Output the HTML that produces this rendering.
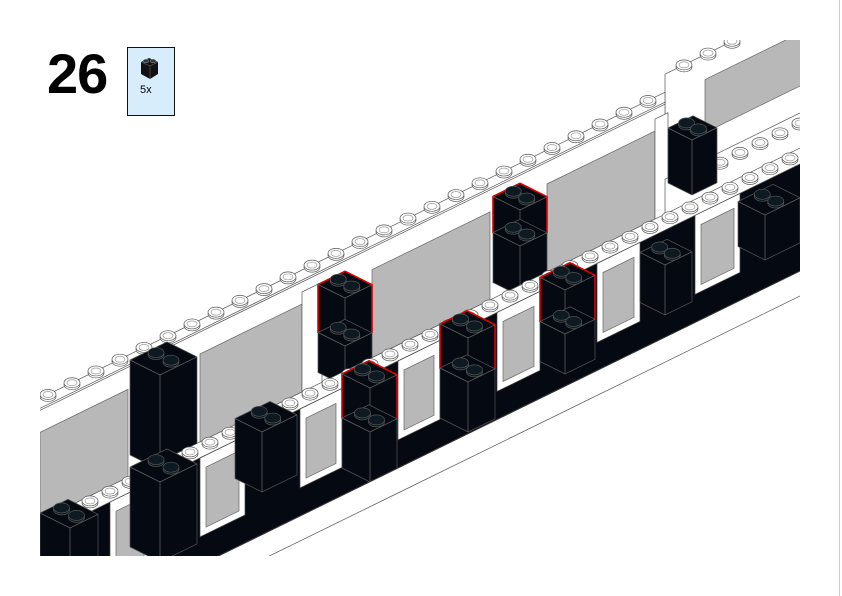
<!DOCTYPE html>
<html><head><meta charset="utf-8"><style>
html,body{margin:0;padding:0;background:#fff;}
body{width:842px;height:596px;position:relative;overflow:hidden;font-family:"Liberation Sans",sans-serif;}
#num{position:absolute;left:47px;top:40px;font-size:56px;font-weight:bold;letter-spacing:-1px;line-height:68px;}
#pl{position:absolute;left:127px;top:47px;width:46px;height:67px;background:#d8edfc;border:1.5px solid #111;}
#pl span{position:absolute;left:12px;top:36px;font-size:11px;}
#vl{position:absolute;left:839px;top:0;width:1px;height:596px;background:#ccc;}
svg{position:absolute;left:0;top:0;}
</style></head><body>
<div id="num">26</div>
<div id="pl"><svg width="46" height="40" viewBox="0 0 46 40"><polygon points="13,14 21,10 30,14 30,26 22,31 13,26" fill="#111"/><line x1="13" y1="14" x2="22" y2="18" stroke="#666" stroke-width=".6"/><line x1="22" y1="18" x2="30" y2="14" stroke="#666" stroke-width=".6"/><line x1="22" y1="18" x2="22" y2="31" stroke="#666" stroke-width=".6"/><ellipse cx="18" cy="13" rx="3" ry="1.8" fill="#333" stroke="#aaa" stroke-width=".5"/><ellipse cx="25" cy="13" rx="3" ry="1.8" fill="#333" stroke="#aaa" stroke-width=".5"/></svg><span>5x</span></div>
<div id="vl"></div>
<svg id="s" width="842" height="596" viewBox="0 0 842 596"></svg>
<script>
var S=document.getElementById('s'),o='<defs><clipPath id="c"><rect x="40" y="40" width="760" height="516"/></clipPath></defs><g clip-path="url(#c)">';
function Y(x,c){return c-0.49*x;}
function P(pts,f,s,w){o+='<polygon points="'+pts.map(function(p){return (+p[0]).toFixed(1)+','+(+p[1]).toFixed(1)}).join(' ')+'" fill="'+f+'" stroke="'+(s||'#555')+'" stroke-width="'+(w||0.7)+'"/>';}
function band(c1,c2,f,x1,x2){x1=x1||0;x2=x2||842;P([[x1,Y(x1,c1)],[x2,Y(x2,c1)],[x2,Y(x2,c2)],[x1,Y(x1,c2)]],f);}
function stud(x,y,f){o+='<ellipse cx="'+x+'" cy="'+(y+2)+'" rx="8" ry="5" fill="'+f+'" stroke="#555" stroke-width=".7"/><ellipse cx="'+x+'" cy="'+y+'" rx="8" ry="5" fill="'+f+'" stroke="#555" stroke-width=".7"/>'+(f=='#fff'?'<ellipse cx="'+x+'" cy="'+y+'" rx="5" ry="3" fill="none" stroke="#888" stroke-width=".6"/>':'');}
function box(xl,xc,xr,yt,h,red){
 var a=0.5*(xc-xl),b=0.49*(xr-xc);
 var L=[xl,yt-a],C=[xc,yt],R=[xr,yt-b],B=[xl+(xr-xc),yt-a-b];
 var s=red?'#d00':'#555',w=red?1.6:0.7;
 P([L,B,R,[xr,yt-b+h],[xc,yt+h],[xl,yt-a+h]],'#050a12',s,w);
 o+='<polyline points="'+L.join(',')+' '+C.join(',')+' '+R.join(',')+'" fill="none" stroke="#666" stroke-width=".7"/><line x1="'+xc+'" y1="'+yt+'" x2="'+xc+'" y2="'+(yt+h)+'" stroke="#666" stroke-width=".7"/>';
 var cx=(L[0]+R[0])/2,cy=(L[1]+R[1])/2-2,dx=(C[0]-L[0])*0.25,dy=(C[1]-L[1])*0.25;
 stud(cx-dx,cy-dy,'#0d1a22');stud(cx+dx,cy+dy,'#0d1a22');
}
// far right wall (higher)
band(400,548,'#fff',665,842);
P([[705,Y(705,425)],[842,Y(842,425)],[842,Y(842,478)],[705,Y(705,478)]],'#b8b8b8','#666');
for(var x=684;x<842;x+=24){stud(x,Y(x,400),'#fff');}
// upper wall
band(418,548,'#fff',0,665);
band(428,430,'#fff',0,665);
[[40,128],[200,302],[372,490],[547,655]].forEach(function(r){P([[r[0],Y(r[0],452)],[r[1],Y(r[1],452)],[r[1],Y(r[1],540)],[r[0],Y(r[0],540)]],'#b8b8b8','#666');});
[[302,322],[655,668]].forEach(function(r){P([[r[0],Y(r[0],440)],[r[1],Y(r[1],440)],[r[1],Y(r[1],545)],[r[0],Y(r[0],545)]],'#fff','#555');});
for(var x=48;x<665;x+=24){stud(x,Y(x,418),'#fff');}
// right mid ledge
band(505,548,'#fff',665,842);
for(var x=720;x<842;x+=20){stud(x,Y(x,515),'#fff');}
box(130,160,197,375,95);
box(318,345,372,298,48,1);box(318,345,372,346,40);
box(493,520,547,210,36,1);box(493,520,547,246,50);
box(668,692,717,140,55);
band(540,556,'#fff');
for(var x=50;x<800;x+=20){stud(x,Y(x,545),'#fff');}
band(556,663,'#050a12');
[[110,150],[200,245],[300,342],[398,440],[497,540],[597,640],[695,740]].forEach(function(r){
 P([[r[0],Y(r[0],556)],[r[1],Y(r[1],556)],[r[1],Y(r[1],635)],[r[0],Y(r[0],635)]],'#fff','#444');
 P([[r[0]+6,Y(r[0]+6,568)],[r[1]-6,Y(r[1]-6,568)],[r[1]-6,Y(r[1]-6,628)],[r[0]+6,Y(r[0]+6,628)]],'#b8b8b8','#666');
});
box(40,70,98,528,45);
box(130,160,197,482,80);
box(235,262,297,432,60);
box(342,370,397,388,44,1);box(342,370,397,432,50);
box(440,468,495,338,44,1);box(440,468,495,382,50);
box(540,565,595,290,44,1);box(540,565,595,334,40);
box(640,665,692,265,50);
box(738,765,800,215,45);
band(663,688,'#fff');
o+='<line x1="0" y1="'+Y(0,663)+'" x2="842" y2="'+Y(842,663)+'" stroke="#333" stroke-width="1"/>';
o+='</g>';S.innerHTML=o;
</script>
</body></html>
